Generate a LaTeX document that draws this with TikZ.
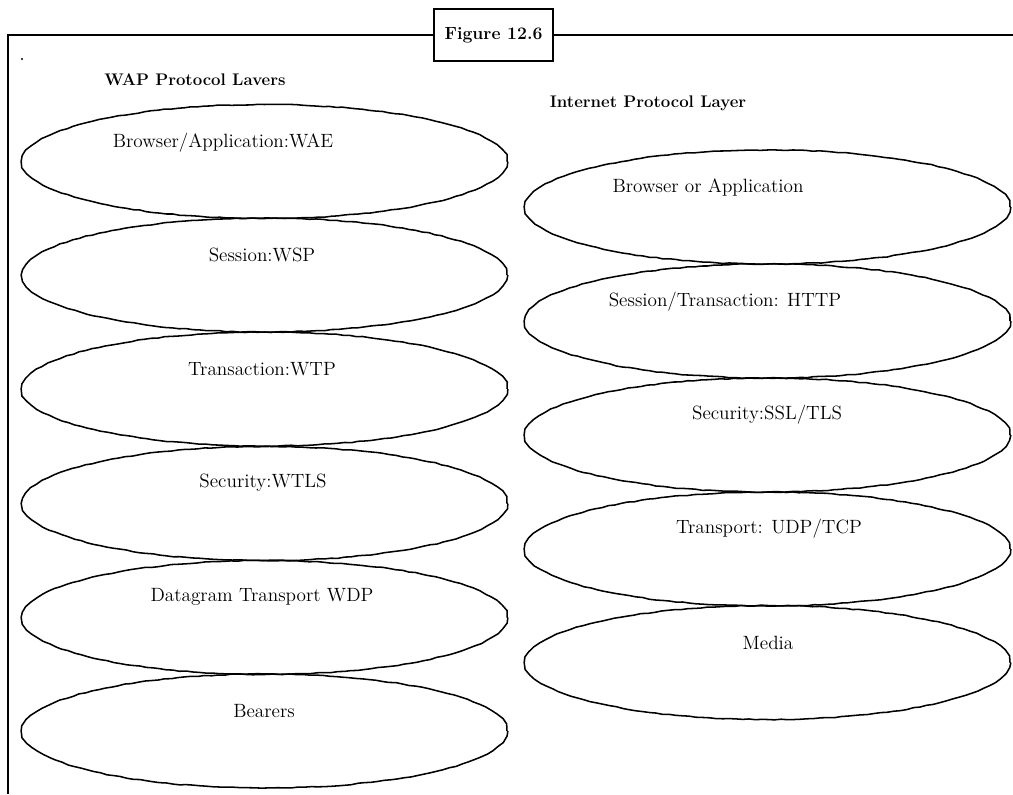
\documentclass[tikz,border=0pt]{standalone}
\usetikzlibrary{shapes.geometric,decorations.pathmorphing}
\begin{document}
\begin{tikzpicture}[x=0.75pt,y=-0.75pt,
  layer/.style={ellipse,draw,line width=1.15pt,minimum width=363.75pt,minimum height=85.5pt,inner sep=0pt,
    decorate,decoration={random steps,segment length=5pt,amplitude=0.35pt}},
  lbl/.style={font=\fontsize{14.4}{17}\selectfont,inner sep=0pt,anchor=center},
  head/.style={font=\fontsize{12.6}{15}\selectfont\bfseries,inner sep=0pt,anchor=center},
  frame/.style={line width=1.6pt}]
\useasboundingbox (0,0) rectangle (1013,794);
% frame
\coordinate (fa) at (8,794);
\coordinate (fb) at (8,35);
\coordinate (fc) at (1013,35);
\draw[frame] (fa) -- (fb) -- (fc);
\node[draw,fill=white,line width=1.3pt,minimum width=89.25pt,minimum height=39pt,inner sep=0pt,
  font=\fontsize{13.2}{16}\selectfont\bfseries] (fig) at (493.5,35) {Figure 12.6};
\fill (22,59) circle (0.8pt);
% headings
\node[head] (hw) at (195,80) {WAP Protocol Lavers};
\node[head] (hi) at (648,103) {Internet Protocol Layer};
% WAP column
\node[layer] (w1) at (264.5,161.5) {};
\node[layer] (w2) at (264.5,275) {};
\node[layer] (w3) at (264.5,389) {};
\node[layer] (w4) at (264.5,503.5) {};
\node[layer] (w5) at (264.5,617.5) {};
\node[layer] (w6) at (264.5,731) {};
\node[lbl] (tw1) at (223,143) {Browser/Application:WAE};
\node[lbl] (tw2) at (262,255) {Session:WSP};
\node[lbl] (tw3) at (262,369) {Transaction:WTP};
\node[lbl] (tw4) at (263,483) {Security:WTLS};
\node[lbl] (tw5) at (262,597) {Datagram Transport WDP};
\node[lbl] (tw6) at (264,711) {Bearers};
% Internet column
\node[layer] (i1) at (767.5,207) {};
\node[layer] (i2) at (767.5,321) {};
\node[layer] (i3) at (767.5,435) {};
\node[layer] (i4) at (767.5,549) {};
\node[layer] (i5) at (767.5,662.5) {};
\node[lbl] (ti1) at (708,187) {Browser or Application};
\node[lbl] (ti2) at (725,302) {Session/Transaction: HTTP};
\node[lbl] (ti3) at (767,415) {Security:SSL/TLS};
\node[lbl] (ti4) at (769,529) {Transport: UDP/TCP};
\node[lbl] (ti5) at (768,643) {Media};
\end{tikzpicture}
\end{document}
